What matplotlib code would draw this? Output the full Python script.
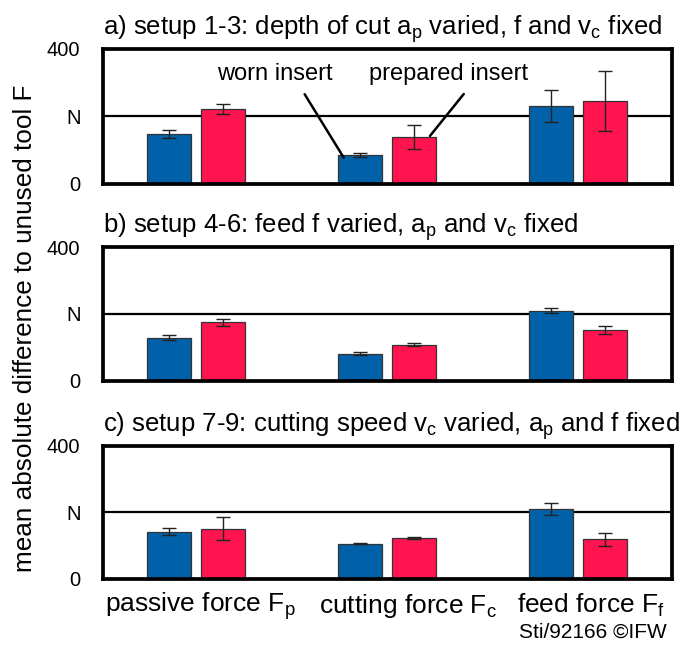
import numpy as np
import matplotlib.pyplot as plt

plt.rcParams['font.family'] = ['Liberation Sans', 'DejaVu Sans']
plt.rcParams['mathtext.fontset'] = 'custom'
plt.rcParams['mathtext.rm'] = 'Liberation Sans'

# force components (x axis groups)
forces = ['passive force F$_\\mathregular{p}$',
          'cutting force F$_\\mathregular{c}$',
          'feed force F$_\\mathregular{f}$']

titles = ['a) setup 1-3: depth of cut a$_\\mathregular{p}$ varied, f and v$_\\mathregular{c}$ fixed',
          'b) setup 4-6: feed f varied, a$_\\mathregular{p}$ and v$_\\mathregular{c}$ fixed',
          'c) setup 7-9: cutting speed v$_\\mathregular{c}$ varied, a$_\\mathregular{p}$ and f fixed']

# mean absolute difference to unused tool, in N
worn_a = [148, 86, 231]
worn_a_err = [11, 7, 46]
prep_a = [222, 140, 246]
prep_a_err = [16, 35, 88]

worn_b = [129, 81, 210]
worn_b_err = [7, 4, 8]
prep_b = [175, 108, 152]
prep_b_err = [10, 4, 12]

worn_c = [142, 106, 210]
worn_c_err = [11, 1, 19]
prep_c = [151, 123, 119]
prep_c_err = [34, 2, 20]

yticks = [0, 200, 400]
yticklabels = ['0', 'N', '400']

blue = '#0061a8'
red = '#ff1450'

fig = plt.figure(figsize=(6.82, 6.54), dpi=100)

boxes = [[0.1506, 0.7187, 0.8343, 0.2064],
         [0.1506, 0.4179, 0.8343, 0.2040],
         [0.1506, 0.1147, 0.8343, 0.2038]]

panels = [(worn_a, worn_a_err, prep_a, prep_a_err),
          (worn_b, worn_b_err, prep_b, prep_b_err),
          (worn_c, worn_c_err, prep_c, prep_c_err)]

x = np.arange(len(forces))
w = 0.23
off = 0.142

axes = []
for i, (box, (wv, we, pv, pe)) in enumerate(zip(boxes, panels)):
    ax = fig.add_axes(box)
    axes.append(ax)
    ax.axhline(200, color='k', lw=1.6, zorder=1)
    ek = dict(ecolor='#222222', elinewidth=1.0, capsize=5, capthick=1.0)
    ax.bar(x - off, wv, w, yerr=we, color=blue, edgecolor='#333333', lw=0.9,
           zorder=2, error_kw=ek)
    ax.bar(x + off, pv, w, yerr=pe, color=red, edgecolor='#333333', lw=0.9,
           zorder=2, error_kw=ek)
    ax.set_xlim(-0.49, 2.49)
    ax.set_ylim(0, 400)
    ax.set_yticks(yticks)
    ax.set_yticklabels(yticklabels, fontsize=14.5)
    ax.tick_params(axis='y', length=0, pad=16)
    ax.set_xticks([])
    for s in ax.spines.values():
        s.set_linewidth(2.7)
    ax.text(0, 1.11, titles[i], transform=ax.transAxes, fontsize=18.5,
            ha='left', va='baseline')

# annotations in panel a
ax = axes[0]
ax.text(0.41, 325, 'worn insert', fontsize=17, ha='center', va='center')
ax.text(1.32, 325, 'prepared insert', fontsize=17, ha='center', va='center')
ax.annotate('', xy=(0.78, 71), xytext=(0.56, 273),
            arrowprops=dict(arrowstyle='-', lw=1.8, color='k'))
ax.annotate('', xy=(1.215, 136), xytext=(1.41, 273),
            arrowprops=dict(arrowstyle='-', lw=1.8, color='k'))

# force labels under bottom panel
ax = axes[2]
for xi, lab in zip([0.02, 1.11, 2.07], forces):
    ax.text(xi, -0.2, lab, transform=ax.get_xaxis_transform(), fontsize=19,
            ha='center', va='center')

fig.text(25 / 682, 1 - 328 / 654, 'mean absolute difference to unused tool F',
         rotation=90, fontsize=18.8, ha='center', va='center')
fig.text(0.978, 1 - 632 / 654, 'Sti/92166 \u00a9IFW', fontsize=15,
         ha='right', va='center')

fig.savefig('out.png', dpi=100)
